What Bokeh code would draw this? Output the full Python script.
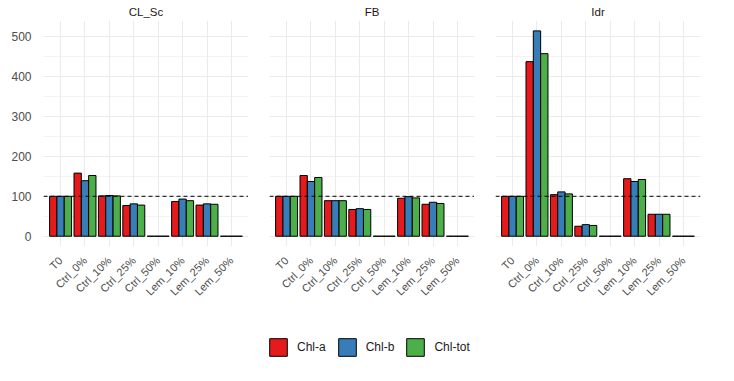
import math
from bokeh.plotting import figure
from bokeh.models import ColumnDataSource, FactorRange, Span, Legend, LegendItem, SingleIntervalTicker
from bokeh.transform import dodge
from bokeh.layouts import column, row
from bokeh.embed import file_html
from bokeh.resources import INLINE

categories = ["T0", "Ctrl_0%", "Ctrl_10%", "Ctrl_25%", "Ctrl_50%", "Lem_10%", "Lem_25%", "Lem_50%"]
panels = ["CL_Sc", "FB", "Idr"]
series = ["Chl-a", "Chl-b", "Chl-tot"]
colors = ["#E41A1C", "#377EB8", "#4DAF4A"]

cl_sc_chla = [100, 158, 101, 77, 0, 87, 78, 0]
cl_sc_chlb = [100, 139, 102, 81, 0, 93, 81, 0]
cl_sc_chltot = [100, 152, 101, 78, 0, 89, 80, 0]

fb_chla = [100, 152, 89, 67, 0, 95, 80, 0]
fb_chlb = [100, 137, 89, 69, 0, 99, 85, 0]
fb_chltot = [100, 147, 89, 67, 0, 96, 82, 0]

idr_chla = [100, 437, 104, 25, 0, 144, 55, 0]
idr_chlb = [100, 514, 111, 29, 0, 137, 55, 0]
idr_chltot = [100, 457, 106, 27, 0, 142, 55, 0]

reference_level = 100

panel_data = {
    "CL_Sc": [cl_sc_chla, cl_sc_chlb, cl_sc_chltot],
    "FB": [fb_chla, fb_chlb, fb_chltot],
    "Idr": [idr_chla, idr_chlb, idr_chltot],
}

FONT = "Liberation Sans"
GRID = "#EBEBEB"
TXT = "#4D4D4D"

figs = []
for i, name in enumerate(panels):
    left = 43 if i == 0 else 21
    right = 10 if i == 2 else 0
    p = figure(x_range=FactorRange(*categories, range_padding=0.2, range_padding_units="absolute"),
               y_range=(-25.7, 540),
               frame_width=205, frame_height=226,
               min_border_left=left, min_border_right=right, min_border_top=20, min_border_bottom=84,
               output_backend="svg", toolbar_location=None, title=name)
    p.title.align = "center"
    p.title.text_font = FONT
    p.title.text_font_size = "11.5px"
    p.title.text_font_style = "normal"
    p.title.text_color = "#1A1A1A"
    p.title.standoff = 5
    p.title.offset = 0
    p.outline_line_color = None
    p.background_fill_color = "white"

    src = ColumnDataSource(dict(cat=categories, a=panel_data[name][0], b=panel_data[name][1], c=panel_data[name][2]))
    for j, (col, off) in enumerate(zip(["a", "b", "c"], [-0.3, 0.0, 0.3])):
        p.vbar(x=dodge("cat", off, range=p.x_range), top=col, bottom=0, width=0.3, source=src,
               fill_color=colors[j], line_color="black", line_width=1)

    p.add_layout(Span(location=reference_level, dimension="width", line_color="black",
                      line_dash="4 3", line_width=1))

    p.yaxis.ticker = SingleIntervalTicker(interval=100, num_minor_ticks=2)
    p.ygrid.minor_grid_line_color = GRID
    p.ygrid.minor_grid_line_width = 0.6
    p.ygrid.grid_line_color = GRID
    p.ygrid.grid_line_width = 1.1
    p.xgrid.grid_line_color = GRID
    p.xgrid.grid_line_width = 1.1

    for ax in (p.xaxis, p.yaxis):
        ax.axis_line_color = None
        ax.major_tick_line_color = None
        ax.minor_tick_line_color = None
        ax.major_label_text_font = FONT
        ax.major_label_text_color = TXT
    p.xaxis.major_label_text_font_size = "11px"
    p.yaxis.major_label_text_font_size = "12px"
    p.xaxis.major_label_orientation = math.pi / 4
    p.xaxis.major_label_standoff = 6
    p.yaxis.major_label_standoff = 6
    if i > 0:
        p.yaxis.visible = False
    figs.append(p)

# legend figure
lf = figure(width=718, height=35, output_backend="svg", toolbar_location=None,
            x_range=(0, 1), y_range=(0, 1), min_border=0)
lf.axis.visible = False
lf.grid.visible = False
lf.outline_line_color = None
items = []
for s, c in zip(series, colors):
    hidden = ColumnDataSource(dict(x=[-10], top=[-10]))
    r = lf.vbar(x="x", top="top", bottom=-11, width=0.1, source=hidden, fill_color=c,
                line_color="black", line_width=1)
    items.append(LegendItem(label=s, renderers=[r]))
leg = Legend(items=items, orientation="horizontal", location=(267, 7),
             glyph_width=22, glyph_height=22, label_text_font=FONT, label_text_font_size="12px",
             label_text_color="#1A1A1A", border_line_color=None, background_fill_alpha=0,
             spacing=10, padding=0, margin=0, label_standoff=8)
lf.add_layout(leg, "center")

layout = column(row(*figs, spacing=0), lf, spacing=0)
open("out.html", "w").write(file_html(layout, INLINE))
